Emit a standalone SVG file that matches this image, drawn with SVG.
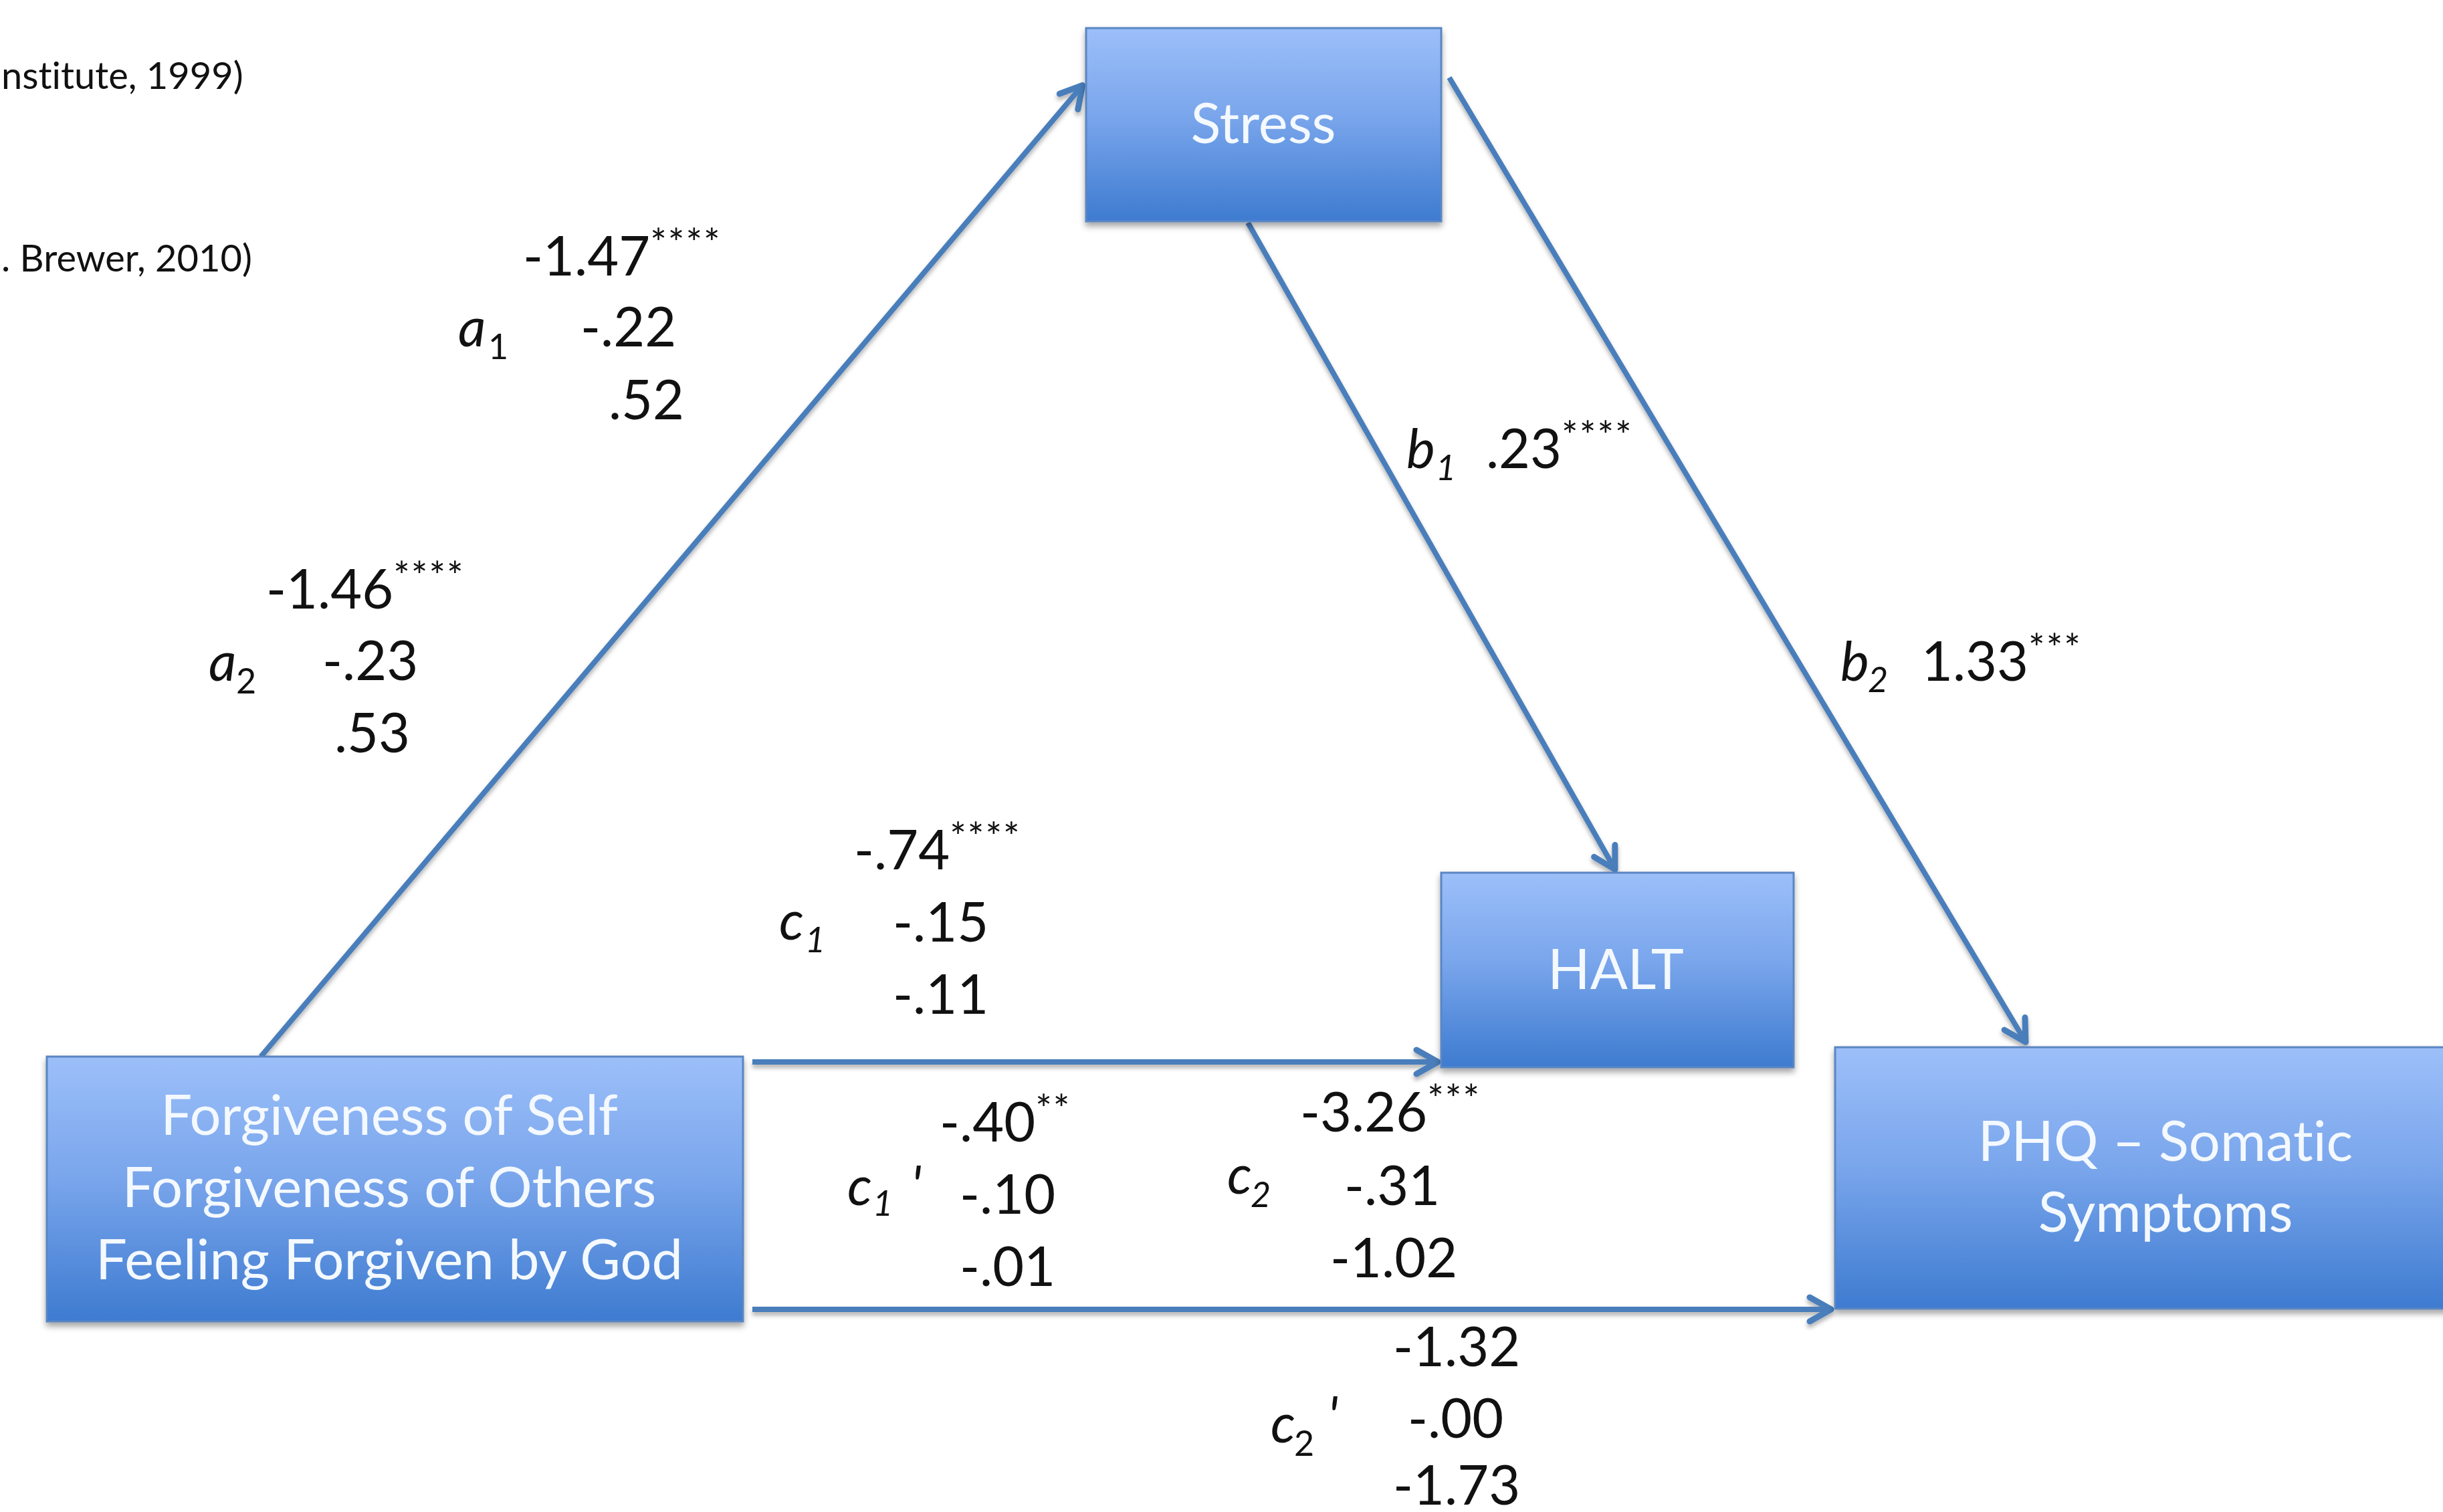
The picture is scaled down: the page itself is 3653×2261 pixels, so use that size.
<svg xmlns="http://www.w3.org/2000/svg" width="3653" height="2261" viewBox="0 0 3653 2261">
<defs>
<linearGradient id="boxGrad" x1="0" y1="0" x2="0" y2="1">
<stop offset="0" stop-color="#9CBFF9"/>
<stop offset="0.45" stop-color="#7AA6EC"/>
<stop offset="1" stop-color="#3E7BD0"/>
</linearGradient>
<filter id="shadow" x="-10%" y="-10%" width="120%" height="130%">
<feDropShadow dx="0" dy="6" stdDeviation="5" flood-color="#000" flood-opacity="0.35"/>
</filter>
<filter id="lshadow" x="-10%" y="-10%" width="120%" height="130%">
<feDropShadow dx="0" dy="5" stdDeviation="3" flood-color="#000" flood-opacity="0.3"/>
</filter>
<marker id="arrow" markerUnits="userSpaceOnUse" viewBox="0 0 48 48" markerWidth="48" markerHeight="48" refX="40" refY="24" orient="auto">
<path d="M6,6 L38,24 L6,42" fill="none" stroke="#4A7EBB" stroke-width="9" stroke-linecap="round" stroke-linejoin="round"/>
</marker>
</defs>
<style>
text { font-variant-ligatures: none; font-feature-settings: "liga" 0, "clig" 0; }
.box { fill: url(#boxGrad); stroke: #5A86C2; stroke-width: 3; filter: url(#shadow); }
.lbl { font-family: Lato, "Open Sans", "Liberation Sans", sans-serif; font-size: 83px; fill: #F4F9FF; text-anchor: middle; }
.num { font-family: Lato, "Liberation Sans", sans-serif; font-size: 81px; fill: #111; }
.sym { font-family: Lato, "Liberation Sans", sans-serif; font-size: 81px; font-style: italic; fill: #111; }
.sub { font-size: 52px; }
.star { font-size: 58px; letter-spacing: 2px; }
.ref { font-family: Lato, "Liberation Sans", sans-serif; font-size: 56px; fill: #111; }
.conn { fill: none; stroke: #4A7EBB; stroke-width: 8; marker-end: url(#arrow); }
</style>
<rect width="3653" height="2261" fill="#FFFFFF"/>

<text class="ref" x="2" y="133">nstitute, 1999)</text>
<text class="ref" x="2" y="406">. Brewer, 2010)</text>

<g id="connectors" filter="url(#lshadow)">
<line class="conn" x1="390" y1="1580" x2="1620" y2="126"/>
<line class="conn" x1="1866" y1="333" x2="2416" y2="1302"/>
<line class="conn" x1="2167" y1="116" x2="3030" y2="1560"/>
<line class="conn" x1="1125" y1="1588" x2="2152" y2="1588"/>
<line class="conn" x1="1125" y1="1958" x2="2740" y2="1958"/>
</g>

<g id="node-stress">
<rect class="box" x="1624" y="42" width="531" height="289"/>
<text class="lbl" x="1889" y="214">Stress</text>
</g>

<g id="node-halt">
<rect class="box" x="2155" y="1305" width="527" height="291"/>
<text class="lbl" x="2416" y="1479">HALT</text>
</g>

<g id="node-phq">
<rect class="box" x="2744" y="1566" width="980" height="391"/>
<text class="lbl" x="3238" y="1736">PHQ – Somatic</text>
<text class="lbl" x="3238" y="1842">Symptoms</text>
</g>

<g id="node-forgiveness">
<rect class="box" x="70" y="1580" width="1041" height="396"/>
<text class="lbl" x="582" y="1697">Forgiveness of Self</text>
<text class="lbl" x="582" y="1805">Forgiveness of Others</text>
<text class="lbl" x="582" y="1913">Feeling Forgiven by God</text>
</g>

<g id="labels">
<!-- a1 -->
<text class="num" x="782" y="412">-1.47<tspan class="star" dy="-28">****</tspan></text>
<text class="sym" x="685" y="518">a<tspan class="sub" font-style="normal" x="730" dy="19">1</tspan></text>
<text class="num" x="868" y="518">-.22</text>
<text class="num" x="910" y="627">.52</text>
<!-- a2 -->
<text class="num" x="398" y="910">-1.46<tspan class="star" dy="-28">****</tspan></text>
<text class="sym" x="312" y="1018">a<tspan class="sub" font-style="normal" x="353" dy="19">2</tspan></text>
<text class="num" x="482" y="1017">-.23</text>
<text class="num" x="500" y="1125">.53</text>
<!-- b1 -->
<text class="sym" x="2103" y="700">b<tspan class="sub" x="2147" dy="18">1</tspan></text>
<text class="num" x="2222" y="700">.23<tspan class="star" dy="-28">****</tspan></text>
<!-- b2 -->
<text class="sym" x="2752" y="1018">b<tspan class="sub" x="2793" dy="17">2</tspan></text>
<text class="num" x="2873" y="1018">1.33<tspan class="star" dy="-28">***</tspan></text>
<!-- c1 -->
<text class="num" x="1277" y="1300">-.74<tspan class="star" dy="-28">****</tspan></text>
<text class="sym" x="1165" y="1405">c<tspan class="sub" x="1204" dy="19">1</tspan></text>
<text class="num" x="1335" y="1408">-.15</text>
<text class="num" x="1335" y="1516">-.11</text>
<!-- c1' -->
<text class="num" x="1405" y="1707">-.40<tspan class="star" dy="-28">**</tspan></text>
<text class="sym" x="1267" y="1802">c<tspan class="sub" x="1305" dy="16">1</tspan><tspan x="1362" dy="-16">'</tspan></text>
<text class="num" x="1435" y="1815">-.10</text>
<text class="num" x="1435" y="1923">-.01</text>
<!-- c2 -->
<text class="num" x="1944" y="1692">-3.26<tspan class="star" dy="-28">***</tspan></text>
<text class="sym" x="1835" y="1785">c<tspan class="sub" x="1870" dy="20">2</tspan></text>
<text class="num" x="2010" y="1802">-.31</text>
<text class="num" x="1989" y="1910">-1.02</text>
<!-- c2' -->
<text class="num" x="2083" y="2043">-1.32</text>
<text class="sym" x="1900" y="2157">c<tspan class="sub" font-style="normal" x="1935" dy="20">2</tspan><tspan x="1985" dy="-30">'</tspan></text>
<text class="num" x="2105" y="2150">-.00</text>
<text class="num" x="2083" y="2250">-1.73</text>
</g>
</svg>
